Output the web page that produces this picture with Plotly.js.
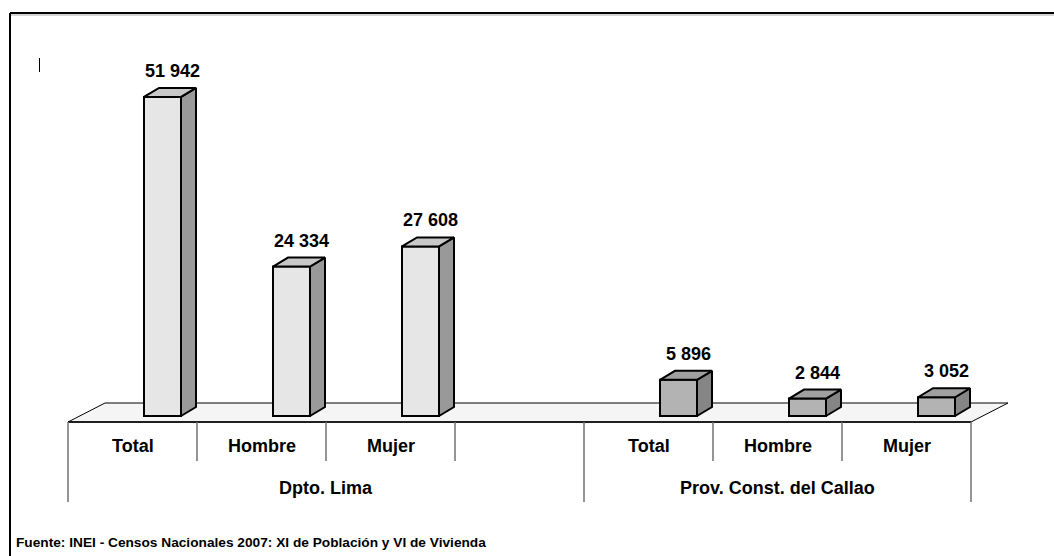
<!DOCTYPE html>
<html>
<head>
<meta charset="utf-8">
<script src="https://cdn.plot.ly/plotly-3.0.1.min.js"></script>
<style>html,body{margin:0;padding:0;background:#fff;}#chart{width:1054px;height:556px;}</style>
</head>
<body>
<div id="chart"></div>
<script>
// ---- data ----
const categories = ['Total', 'Hombre', 'Mujer', '', 'Total', 'Hombre', 'Mujer'];
const groups = ['Dpto. Lima', 'Prov. Const. del Callao'];
const groupCenters = [1.5, 5];
const limaSlots = [0, 1, 2];
const limaValues = [51942, 24334, 27608];
const callaoSlots = [4, 5, 6];
const callaoValues = [5896, 2844, 3052];
const sourceText = 'Fuente: INEI - Censos Nacionales 2007: XI de Población y VI de Vivienda';

// ---- geometry / style ----
const W = 1054, H = 556;
const slotPx = 129, tableLeftPx = 68, zeroPx = 416, unitsPerPx = 162.8;
const xr = [(0 - tableLeftPx) / slotPx - 0.5, (W - tableLeftPx) / slotPx - 0.5];
const yr = [-(H - zeroPx) * unitsPerPx, zeroPx * unitsPerPx];
const barOffset = 30 / slotPx, barWidth = 37 / slotPx;
const depthX = 15 / slotPx, depthY = 9 * unitsPerPx;
const font = 'Liberation Sans Narrow, Arial Narrow, Liberation Sans, Arial, sans-serif';
const py = p => 1 - p / H;

function fmt(v) { return String(v).replace(/\B(?=(\d{3})+(?!\d))/g, ' '); }

const traces = [];
const annotations = [];
function addSeries(slots, values, cFront, cSide, cTop) {
  const xs = slots.map(s => s + barOffset);
  traces.push({
    type: 'bar', x: xs, y: values, width: barWidth,
    marker: {color: cFront, line: {color: '#000', width: 2}},
    hoverinfo: 'skip', showlegend: false
  });
  xs.forEach((xc, i) => {
    const v = values[i];
    const xl = xc - barWidth / 2, xrr = xc + barWidth / 2;
    traces.push({
      type: 'scatter', mode: 'lines', fill: 'toself', fillcolor: cSide,
      x: [xrr, xrr, xrr + depthX, xrr + depthX, xrr],
      y: [0, v, v + depthY, depthY, 0],
      line: {color: '#000', width: 2}, hoverinfo: 'skip', showlegend: false
    });
    traces.push({
      type: 'scatter', mode: 'lines', fill: 'toself', fillcolor: cTop,
      x: [xl, xrr, xrr + depthX, xl + depthX, xl],
      y: [v, v, v + depthY, v + depthY, v],
      line: {color: '#000', width: 2}, hoverinfo: 'skip', showlegend: false
    });
    annotations.push({
      x: xc + 10 / slotPx, y: v, xref: 'x', yref: 'y', yshift: 26,
      xanchor: 'center', yanchor: 'middle',
      text: '<b>' + fmt(v) + '</b>', showarrow: false,
      font: {family: font, size: 18, color: '#000'}
    });
  });
}
addSeries(limaSlots, limaValues, '#E6E6E6', '#999999', '#C8C8C8');
addSeries(callaoSlots, callaoValues, '#B3B3B3', '#858585', '#A0A0A0');

// category labels
categories.forEach((c, i) => {
  if (!c) return;
  annotations.push({
    x: i, y: py(446), xref: 'x', yref: 'paper', xanchor: 'center', yanchor: 'middle',
    text: '<b>' + c + '</b>',
    showarrow: false, font: {family: font, size: 18, color: '#000'}
  });
});
groups.forEach((g, i) => {
  annotations.push({
    x: groupCenters[i], y: py(488), xref: 'x', yref: 'paper', xanchor: 'center', yanchor: 'middle',
    text: '<b>' + g + '</b>',
    showarrow: false, font: {family: font, size: 18, color: '#000'}
  });
});
annotations.push({
  x: 14 / W, y: py(542), xref: 'paper', yref: 'paper', xanchor: 'left', yanchor: 'middle',
  text: '<b>' + sourceText + '</b>', showarrow: false,
  font: {family: font, size: 13.7, color: '#000'}
});

// shapes: floor, table lines, frame
const floorFront = -6 * unitsPerPx, floorBack = 13 * unitsPerPx;
const floorDepth = 37 / slotPx;
const nSlots = categories.length;
const shapes = [
  {type: 'path', xref: 'x', yref: 'y', layer: 'below',
   path: `M ${-0.5} ${floorFront} L ${nSlots - 0.5} ${floorFront} L ${nSlots - 0.5 + floorDepth} ${floorBack} L ${-0.5 + floorDepth} ${floorBack} Z`,
   fillcolor: '#F5F5F5', line: {color: '#000', width: 1}},
  {type: 'line', xref: 'x', yref: 'y', x0: -0.5, x1: nSlots - 0.5, y0: floorFront, y1: floorFront,
   line: {color: '#000', width: 1.5}}
];
for (let i = 0; i <= nSlots; i++) {
  const major = (i === 0 || i === nSlots || i === 4);
  shapes.push({type: 'line', xref: 'x', yref: 'paper', x0: i - 0.5, x1: i - 0.5,
    y0: py(422), y1: py(major ? 502 : 461),
    line: {color: '#707070', width: 1.5}});
}
shapes.push({type: 'line', xref: 'paper', yref: 'paper', x0: 10 / W, x1: 1, y0: py(13), y1: py(13), line: {color: '#000', width: 2}});
shapes.push({type: 'line', xref: 'paper', yref: 'paper', x0: 10 / W, x1: 1, y0: py(15), y1: py(15), line: {color: '#AAAAAA', width: 1}});
shapes.push({type: 'line', xref: 'paper', yref: 'paper', x0: 10 / W, x1: 10 / W, y0: py(13), y1: 0, line: {color: '#000', width: 2}});
shapes.push({type: 'line', xref: 'paper', yref: 'paper', x0: 39.5 / W, x1: 39.5 / W, y0: py(58), y1: py(72), line: {color: '#000', width: 1}});

const layout = {
  width: W, height: H, autosize: false,
  margin: {l: 0, r: 0, t: 0, b: 0},
  paper_bgcolor: '#fff', plot_bgcolor: 'rgba(0,0,0,0)',
  xaxis: {range: xr, visible: false, fixedrange: true},
  yaxis: {range: yr, visible: false, fixedrange: true},
  shapes: shapes, annotations: annotations, showlegend: false,
  bargap: 0
};
Plotly.newPlot('chart', traces, layout, {staticPlot: true, displayModeBar: false});
</script>
</body>
</html>
